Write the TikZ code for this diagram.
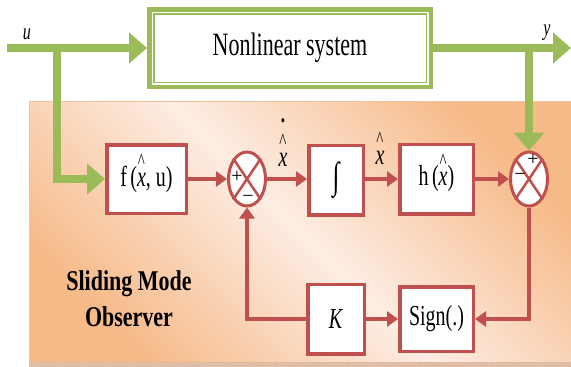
\documentclass[tikz,border=0pt]{standalone}
\usepackage{fontspec}
\setmainfont{Liberation Serif}
\usetikzlibrary{arrows.meta,shapes.geometric,calc,patterns}
\definecolor{smgreen}{HTML}{9BBB59}
\definecolor{smred}{HTML}{C0504D}
\definecolor{bgdark}{HTML}{F6BA89}
\definecolor{bglight}{HTML}{FDEDE3}
\definecolor{bgedge}{HTML}{F4C29C}
\definecolor{stripcol}{HTML}{E4C4AC}
\definecolor{stripdot}{HTML}{C99E82}
% vertically stretched text
\newcommand\tall[1]{\scalebox{1}[1.45]{#1}}
% small caret used as a hat
\newcommand\caret{{\fontsize{15}{15}\selectfont\textasciicircum}}
% x with a hat, and x with a hat and a dot
\newcommand\hx{\ooalign{\textit{x}\cr\hidewidth\raisebox{12pt}{\caret}\hidewidth\cr}}
\newcommand\hxd{\ooalign{\textit{x}\cr\hidewidth\raisebox{12pt}{\caret}\hidewidth\cr\hidewidth\raisebox{27pt}{\fontsize{12}{12}\selectfont\textbullet}\hidewidth\cr}}
\tikzset{
  greenline/.style={draw=smgreen, line width=8.5pt},
  greenarr/.style={greenline, -{Triangle[length=18pt,width=30pt]}},
  redline/.style={draw=smred, line width=4pt},
  redarr/.style={redline, -{Triangle[length=11pt,width=15pt]}},
  blk/.style={draw=smred, line width=3.5pt, fill=white, inner sep=0pt,
    font=\fontsize{20}{24}\selectfont},
  sumnode/.style={ellipse, draw=smred, line width=3pt, fill=white, inner sep=0pt,
    minimum width=37pt, minimum height=54pt},
  crossline/.style={draw=smred, line width=2.5pt},
  sgn/.style={inner sep=0pt, font=\fontsize{20}{24}\selectfont},
  lbl/.style={inner sep=0pt, font=\fontsize{20}{24}\selectfont},
  nlbox/.style={draw=smgreen, line width=4.5pt, fill=white, inner sep=0pt,
    minimum width=281.5pt, minimum height=77.5pt, font=\fontsize{22}{26}\selectfont}
}
\begin{document}
\begin{tikzpicture}[x=1pt, y=-1pt]
\useasboundingbox (0,0) rectangle (571,367);

% observer background panel
\shade[left color=bgdark, right color=bgdark, middle color=bglight, shading angle=135]
  (29,101) rectangle (571,362);
\draw[bgedge, line width=0.8pt] (571,101) -- (29,101) -- (29,362);
\fill[stripcol] (29,362) rectangle (571,367);
\fill[pattern=crosshatch dots, pattern color=stripdot] (29,362) rectangle (571,367);

% plant
\node[nlbox] (nl) at (290,48) {\scalebox{1}[1.48]{Nonlinear system}};
\draw[smgreen, line width=1.4pt] ([shift={(6.8,6.8)}]nl.north west) rectangle ([shift={(-6.8,-6.8)}]nl.south east);

\coordinate (uin) at (7,48);
\coordinate (ubr) at (57,48);
\coordinate (yout) at (571,48);
\coordinate (ybr) at (529,48);

% observer blocks
\node[blk, minimum width=79.5pt, minimum height=68.5pt] (f) at (146.5,179) {\tall{f\,(\hx, u)}};
\node[sumnode] (s1) at (247,179) {};
\node[blk, minimum width=54.5pt, minimum height=69.5pt] (int) at (336,180) {\scalebox{1}[1.5]{\fontsize{25}{28}\selectfont ∫}};
\node[blk, minimum width=73.5pt, minimum height=69.5pt] (h) at (436.5,179) {\tall{h\,(\hx)}};
\node[sumnode] (s2) at (529,179) {};
\node[blk, minimum width=56.5pt, minimum height=69.5pt] (K) at (336,319) {\tall{\textit{K}}};
\node[blk, minimum width=73.5pt, minimum height=64.5pt] (sg) at (436.5,319) {\tall{Sign(.)}};

% plant signals
\draw[greenarr] (uin) -- (nl.west);
\draw[greenarr] (nl.east) -- (yout);
\draw[greenarr] (ubr) |- (f.west);
\draw[greenarr] (ybr) -- (s2.north);

% observer signals
\draw[redarr] (f.east) -- (s1.west);
\draw[redarr] (s1.east) -- (int.west |- s1.east);
\draw[redarr] (int.east |- h.west) -- (h.west);
\draw[redarr] (h.east) -- (s2.west);
\draw[redarr] (s2.south) |- (sg.east);
\draw[redarr] (K.east) -- (sg.west);
\draw[redarr] (K.west) -| (s1.south);

% summing junction crosses and signs
\foreach \s in {s1,s2}{
  \draw[crossline] (\s.124) -- (\s.-56);
  \draw[crossline] (\s.56) -- (\s.-124);
}
\node[sgn] (s1p) at (237,177) {+};
\node[sgn] (s1m) at (248,199) {−};
\node[sgn] (s2p) at (533,160) {+};
\node[sgn] (s2m) at (520,177) {−};

% signal labels
\node[lbl, anchor=base, font=\fontsize{16}{20}\selectfont] (lu) at (27,39) {\tall{\textit{u}}};
\node[lbl, anchor=base, font=\fontsize{16}{20}\selectfont] (ly) at (547,35) {\tall{\textit{y}}};
\node[lbl, anchor=base] (lxd) at (283,166) {\tall{\hxd}};
\node[lbl, anchor=base] (lx) at (380,164) {\tall{\hx}};

% panel title
\node[inner sep=0pt, anchor=base, font=\fontsize{22}{27.7}\selectfont\bfseries] (title) at (129,290)
  {\scalebox{1}[1.3]{\begin{tabular}[t]{@{}c@{}}Sliding Mode\\Observer\end{tabular}}};
\end{tikzpicture}
\end{document}
